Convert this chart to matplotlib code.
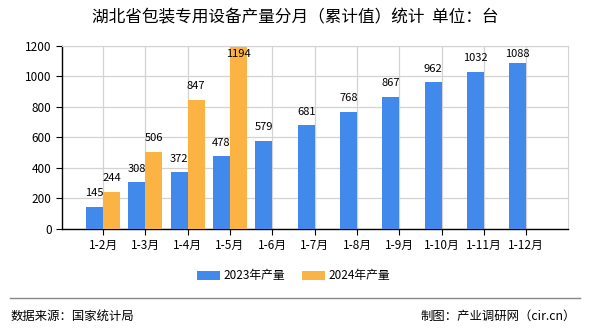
import matplotlib
matplotlib.use('Agg')
import matplotlib.pyplot as plt
import numpy as np

plt.rcParams['font.family'] = ['Noto Sans CJK SC', 'DejaVu Sans']

# 湖北省包装专用设备产量（累计值）
months = ['1-2月', '1-3月', '1-4月', '1-5月', '1-6月', '1-7月',
          '1-8月', '1-9月', '1-10月', '1-11月', '1-12月']
output_2023 = [145, 308, 372, 478, 579, 681, 768, 867, 962, 1032, 1088]
output_2024 = [244, 506, 847, 1194]

blue = '#4189EA'
orange = '#FBB443'
y_max = 1200

fig = plt.figure(figsize=(5.9, 3.3), dpi=100)
ax = fig.add_axes([0.105, 0.306, 0.858, 0.555])

x = np.arange(len(months))
w = 0.4
ax.bar(x[:len(output_2023)] - w / 2, output_2023, w, color=blue, label='2023年产量', zorder=3)
ax.bar(x[:len(output_2024)] + w / 2, output_2024, w, color=orange, label='2024年产量', zorder=3)


def add_label(xpos, v):
    # keep the value label inside the plot area
    if v + 120 < y_max:
        ax.text(xpos, v + 55, str(v), ha='center', va='bottom', fontsize=8, zorder=4)
    else:
        ax.text(xpos, y_max - 20, str(v), ha='center', va='top', fontsize=8, zorder=4)


for xi, v in zip(x, output_2023):
    add_label(xi - w / 2, v)
for xi, v in zip(x, output_2024):
    add_label(xi + w / 2, v)

ax.set_xlim(-0.97, 10.99)
ax.set_ylim(0, y_max)
ax.set_yticks(range(0, y_max + 1, 200))
ax.set_xticks(x)
ax.set_xticklabels(months, fontsize=8.5)
ax.tick_params(axis='y', labelsize=8.5, length=4)
ax.tick_params(axis='x', length=4)
ax.grid(True, color='#D3D3D3', linewidth=0.9, zorder=0)

for side in ['top', 'right']:
    ax.spines[side].set_color('#D3D3D3')
for side in ['left', 'bottom']:
    ax.spines[side].set_color('black')
    ax.spines[side].set_linewidth(1.0)

fig.text(0.5, 0.945, '湖北省包装专用设备产量分月（累计值）统计  单位：台',
         ha='center', va='center', fontsize=12)

fig.legend(loc='center', bbox_to_anchor=(0.498, 0.164), ncol=2, frameon=False,
           fontsize=8.5, handlelength=1.95, handleheight=0.76,
           handletextpad=0.3, columnspacing=1.4)

fig.add_artist(plt.Line2D([0.017, 0.983], [0.097, 0.097], color='#888888', linewidth=1))
fig.text(0.018, 0.042, '数据来源：国家统计局', ha='left', va='center', fontsize=8.9)
fig.text(0.976, 0.042, '制图：产业调研网（cir.cn）', ha='right', va='center', fontsize=8.9)

fig.savefig('out.png', dpi=100)
